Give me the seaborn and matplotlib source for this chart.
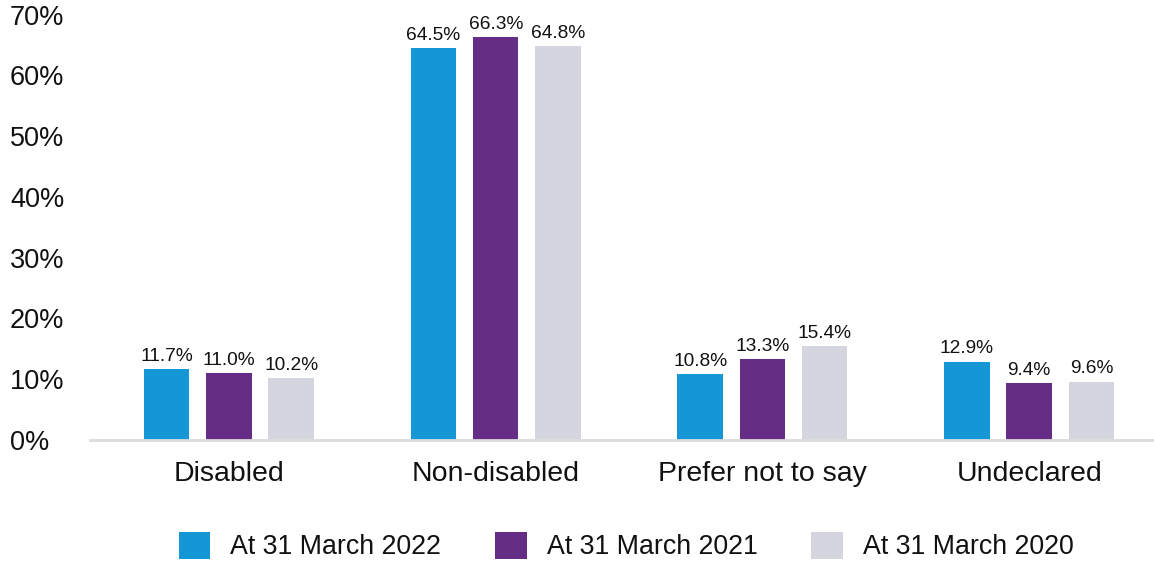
import matplotlib
matplotlib.use("Agg")
import matplotlib.pyplot as plt
import seaborn as sns
import pandas as pd
from matplotlib.patches import Patch

categories = ["Disabled", "Non-disabled", "Prefer not to say", "Undeclared"]
series_names = ["At 31 March 2022", "At 31 March 2021", "At 31 March 2020"]
values_2022 = [11.7, 64.5, 10.8, 12.9]
values_2021 = [11.0, 66.3, 13.3, 9.4]
values_2020 = [10.2, 64.8, 15.4, 9.6]
colors = ["#1597D5", "#652D86", "#D5D5DF"]
yticks = [0, 10, 20, 30, 40, 50, 60, 70]

rows = []
for name, vals in zip(series_names, [values_2022, values_2021, values_2020]):
    for c, v in zip(categories, vals):
        rows.append({"category": c, "series": name, "value": v})
df = pd.DataFrame(rows)

sns.set_style("white")
plt.rcParams["font.family"] = ["Liberation Sans", "DejaVu Sans"]

fig = plt.figure(figsize=(11.54, 5.63), dpi=100)
ax = fig.add_axes([90 / 1154, 1 - 440 / 563, 1 - 90 / 1154, 440 / 563])

sns.barplot(data=df, x="category", y="value", hue="series", order=categories,
            hue_order=series_names, palette=colors, width=0.7, gap=0.27,
            ax=ax, legend=False, errorbar=None, saturation=1, linewidth=0)

for cont in ax.containers:
    ax.bar_label(cont, labels=[f"{v:.1f}%" for v in cont.datavalues],
                 padding=3, fontsize=13.8, color="#111111")

ax.set_ylim(0, 72.4)
ax.set_xlim(-0.521, 3.468)
ax.set_yticks(yticks)
ax.set_yticklabels([f"{t}%" for t in yticks], fontsize=19.5, color="#111111")
for lab in ax.get_yticklabels():
    lab.set_horizontalalignment("left")
ax.tick_params(axis="y", length=0, pad=57.6)
ax.tick_params(axis="x", length=0, pad=15, labelsize=20.5, labelcolor="#111111")
ax.set_xlabel("")
ax.set_ylabel("")
for s in ["top", "right", "left"]:
    ax.spines[s].set_visible(False)
ax.spines["bottom"].set_color("#dcdcdc")
ax.spines["bottom"].set_linewidth(2)

handles = [Patch(facecolor=c, edgecolor="none") for c in colors]
fig.legend(handles, series_names, loc="center", bbox_to_anchor=(626 / 1154, 1 - 546 / 563),
           ncol=3, frameon=False, fontsize=19.3, handlelength=1.19, handleheight=1.19,
           handletextpad=0.74, columnspacing=2.0, labelcolor="#111111")

fig.savefig("out.png", dpi=100)
